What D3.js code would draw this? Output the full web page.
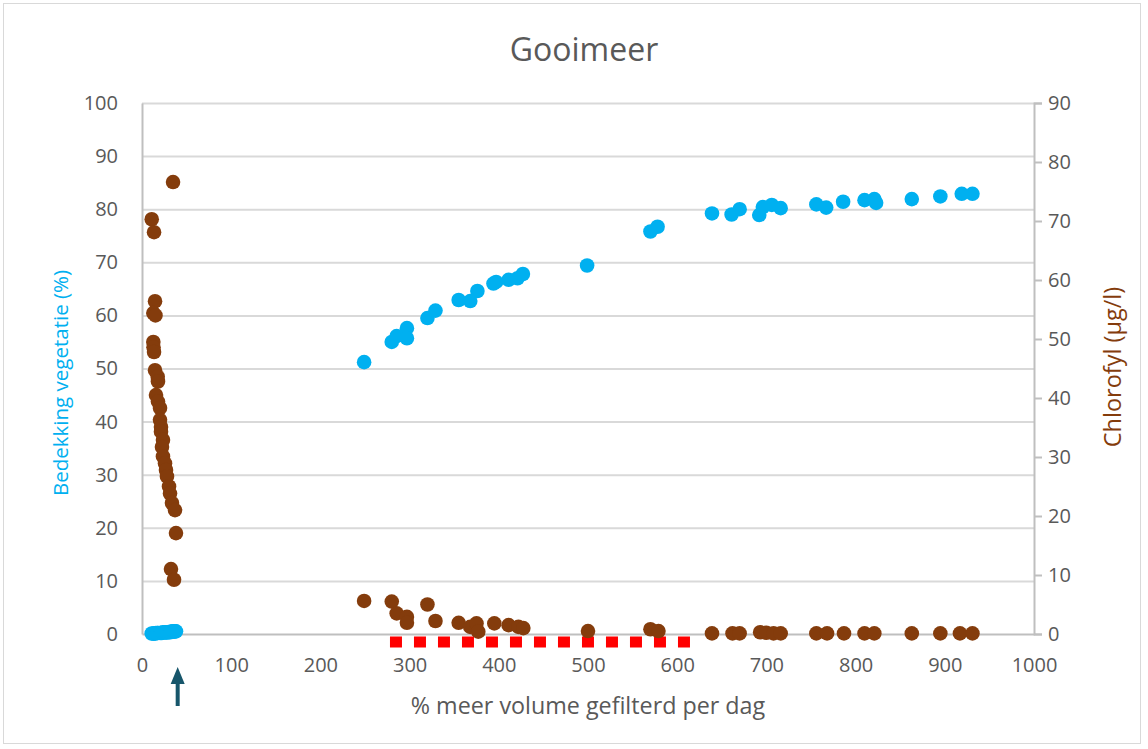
<!DOCTYPE html>
<html><head><meta charset="utf-8">
<script src="https://cdn.jsdelivr.net/npm/d3@7"></script>
<style>body{margin:0;background:#fff}svg{display:block}text{font-family:"Open Sans",sans-serif}</style>
</head><body>
<svg id="c" width="1148" height="749"></svg>
<script>
// ---- Data ----
const title = "Gooimeer";
const xTitle = "% meer volume gefilterd per dag";
const yLeftTitle = "Bedekking vegetatie (%)";
const yRightTitle = "Chlorofyl (µg/l)";
const xTicks = [0,100,200,300,400,500,600,700,800,900,1000];
const yLeftTicks = [0,10,20,30,40,50,60,70,80,90,100];
const yRightTicks = [0,10,20,30,40,50,60,70,80,90];

// Vegetation cover (%) vs % extra volume filtered (left axis)
const vegX = [10.9,12.7,13.5,14.6,15.7,17.6,17.9,20.2,21.3,22.4,23.5,25.8,26.9,28.0,30.3,31.4,32.5,33.6,34.8,35.9,37.0,38.1,
  249,280,285.5,297,297,320,329,355,368,376,394,397,411,421,427,499,
  570,578,639,661,670,692,696,706,716,756,767,786,810,821,823,863,895,919,931];
const vegY = [0.1,0.1,0.1,0.1,0.2,0.2,0.2,0.2,0.2,0.2,0.3,0.3,0.3,0.3,0.3,0.4,0.4,0.4,0.5,0.5,0.5,0.5,
  51.2,55.0,56.1,57.6,55.7,59.5,60.9,62.9,62.7,64.6,66.0,66.3,66.7,67.0,67.8,69.4,
  75.8,76.7,79.2,79.0,80.0,78.9,80.4,80.8,80.2,80.9,80.3,81.4,81.7,81.9,81.2,81.9,82.4,82.9,82.9];

// Chlorophyll (µg/l) vs % extra volume filtered (right axis)
const chlX = [34.8,10.9,13.5,14.6,12.7,15.1,12.7,12.9,13.5,14.6,17.6,17.9,15.7,17.9,20.2,20.2,21.3,21.3,23.5,22.4,23.5,25.8,26.9,28.0,30.3,31.4,33.6,37.0,38.1,32.5,35.9,
  249,280,285.5,297,297,320,329,355,368,375,377,395,411,422,427.5,500,570,579,
  639,662,670,693,700,708,716,756,768,787,810,821,863,895,917,931];
const chlY = [76.6,70.3,68.1,56.4,54.4,54.0,49.5,48.6,47.8,44.7,43.6,42.8,40.5,39.4,38.3,36.3,35.1,34.3,32.9,31.7,30.1,28.9,27.8,26.7,25.0,23.8,22.2,21.0,17.1,11.0,9.2,
  5.6,5.5,3.5,2.9,1.9,5.0,2.2,1.9,1.2,1.8,0.4,1.8,1.5,1.2,1.0,0.5,0.8,0.5,
  0.1,0.1,0.1,0.3,0.2,0.1,0.1,0.1,0.1,0.1,0.1,0.1,0.1,0.1,0.1,0.1];

// Red dashed marker range (left-axis units)
const rangeX = [278,616];
const rangeY = [-1.5,-1.5];
const arrowX = 40;

// ---- Layout ----
const svg = d3.select("#c");
const L = 142, R = 1034, T = 103, B = 634;
const x = d3.scaleLinear().domain([0,1000]).range([L,R]);
const yL = d3.scaleLinear().domain([0,100]).range([B,T]);
const yR = d3.scaleLinear().domain([0,90]).range([B,T]);
const txt = "#595959", grid = "#d9d9d9", axisC = "#bfbfbf";
const blue = "#00b0f0", brown = "#843c0c";

svg.append("rect").attr("x",3.5).attr("y",3.5).attr("width",1137).attr("height",740)
  .attr("fill","#fff").attr("stroke","#d9d9d9").attr("stroke-width",1);

svg.append("text").attr("x",584).attr("y",61).attr("text-anchor","middle")
  .attr("font-size",32).attr("fill",txt).text(title);

// gridlines
svg.append("g").selectAll("line").data(yLeftTicks.filter(d=>d>0)).join("line")
  .attr("x1",L).attr("x2",R).attr("y1",d=>yL(d)+0.5).attr("y2",d=>yL(d)+0.5)
  .attr("stroke",grid).attr("stroke-width",2);

// left axis
const gl = svg.append("g").attr("transform",`translate(${L},0)`)
  .call(d3.axisLeft(yL).tickValues(yLeftTicks).tickSize(0).tickPadding(24));
gl.select(".domain").attr("stroke",axisC).attr("stroke-width",2);
gl.selectAll("text").attr("font-size",20).attr("fill",txt).attr("font-family","Open Sans");

// right axis
const gr = svg.append("g").attr("transform",`translate(${R},0)`)
  .call(d3.axisRight(yR).tickValues(yRightTicks).tickSize(8).tickPadding(6));
gr.select(".domain").attr("stroke",axisC).attr("stroke-width",2);
gr.selectAll(".tick line").attr("stroke",axisC).attr("stroke-width",2);
gr.selectAll("text").attr("font-size",20).attr("fill",txt).attr("font-family","Open Sans");

// bottom axis
const gb = svg.append("g").attr("transform",`translate(0,${B})`)
  .call(d3.axisBottom(x).tickValues(xTicks).tickFormat(d3.format("d")).tickSize(0).tickPadding(24));
gb.select(".domain").attr("stroke",axisC).attr("stroke-width",2);
gb.selectAll("text").attr("font-size",20).attr("fill",txt).attr("font-family","Open Sans");

// axis titles
svg.append("text").attr("x",588).attr("y",714).attr("text-anchor","middle")
  .attr("font-size",23.3).attr("fill",txt).text(xTitle);
svg.append("text").attr("transform","translate(68,383) rotate(-90)").attr("text-anchor","middle")
  .attr("font-size",20.5).attr("fill",blue).text(yLeftTitle);
svg.append("text").attr("transform","translate(1121,367) rotate(-90)").attr("text-anchor","middle")
  .attr("font-size",23.5).attr("fill",brown).text(yRightTitle);

// red dashed range line
svg.append("path").datum(d3.zip(rangeX,rangeY))
  .attr("d",d3.line().x(d=>x(d[0])).y(d=>yL(d[1])))
  .attr("stroke","#ff0000").attr("stroke-width",11).attr("stroke-dasharray","12,12").attr("fill","none");

// series
svg.append("g").selectAll("circle").data(d3.zip(vegX,vegY)).join("circle")
  .attr("cx",d=>x(d[0])).attr("cy",d=>yL(d[1])).attr("r",7.3).attr("fill",blue);
svg.append("g").selectAll("circle").data(d3.zip(chlX,chlY)).join("circle")
  .attr("cx",d=>x(d[0])).attr("cy",d=>yR(d[1])).attr("r",7.3).attr("fill",brown);

// arrow
const ax = x(arrowX);
const ac = "#17566b";
svg.append("line").attr("x1",ax).attr("x2",ax).attr("y1",706).attr("y2",680)
  .attr("stroke",ac).attr("stroke-width",4);
svg.append("path").attr("d",`M${ax},667 L${ax-7},684 L${ax+7},684 Z`).attr("fill",ac);
</script>
</body></html>
